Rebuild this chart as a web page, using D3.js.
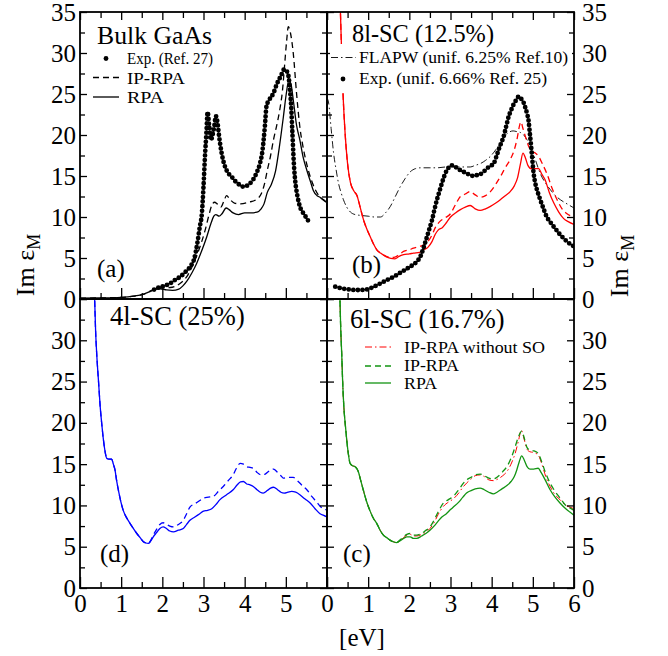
<!DOCTYPE html>
<html><head><meta charset="utf-8">
<script src="https://cdn.jsdelivr.net/npm/d3@7"></script>
<style>body{margin:0;background:#fff} svg{display:block} text{font-family:"Liberation Serif","Times New Roman",serif;fill:#000}</style>
</head><body><svg id="c" width="668" height="656"></svg>
<script>
// ---------- DATA ----------
const xMajor = [0,1,2,3,4,5,6];
const xMinor = [0.5,1.5,2.5,3.5,4.5,5.5];
const yMajorTop = [0,5,10,15,20,25,30,35];
const yMajorBottom = [0,5,10,15,20,25,30];
const yMinor = [2.5,7.5,12.5,17.5,22.5,27.5,32.5];
const xLabelsLeft = [0,1,2,3,4,5];
const xLabelsRight = [0,1,2,3,4,5,6];

// (a) Bulk GaAs
const bulkRPA = [[0,0.1],[0.5,0.12],[1.0,0.2],[1.3,0.35],[1.55,0.6],[1.7,0.9],[1.85,1.2],[1.95,1.25],[2.1,1.1],[2.25,1.05],[2.4,1.2],[2.5,1.6],[2.6,2.2],[2.72,3.2],[2.83,4.3],[2.95,5.8],[3.08,7.6],[3.18,9.2],[3.25,10.1],[3.3,10.3],[3.38,10.1],[3.45,10.4],[3.55,11.1],[3.62,10.9],[3.72,10.5],[3.85,10.3],[4.0,10.5],[4.15,10.5],[4.3,10.6],[4.4,11.0],[4.47,11.6],[4.55,13.0],[4.65,14.0],[4.75,15.6],[4.85,18.8],[4.94,22.2],[5.01,25.0],[5.07,26.6],[5.12,26.3],[5.18,24.3],[5.26,21.2],[5.34,19.4],[5.42,17.3],[5.51,15.7],[5.6,14.3],[5.67,13.2],[5.76,12.6],[5.83,12.4],[5.92,12.1],[6.0,11.7]];
const bulkIP = [[0,0.1],[1.0,0.2],[1.3,0.35],[1.55,0.6],[1.7,0.95],[1.85,1.25],[1.95,1.35],[2.19,1.4],[2.43,1.9],[2.59,2.7],[2.72,3.9],[2.83,5.2],[2.95,6.9],[3.04,8.4],[3.12,10.0],[3.2,11.4],[3.27,11.8],[3.33,11.6],[3.42,11.2],[3.5,12.0],[3.56,12.6],[3.65,12.1],[3.75,11.7],[3.9,11.6],[4.1,11.8],[4.3,12.2],[4.4,12.8],[4.48,14.0],[4.55,15.7],[4.63,17.5],[4.7,19.4],[4.78,21.2],[4.85,23.0],[4.92,25.5],[4.97,28.5],[5.02,31.5],[5.06,33.2],[5.11,32.5],[5.18,30.0],[5.26,25.1],[5.34,21.0],[5.42,18.5],[5.51,16.4],[5.6,14.8],[5.7,13.5],[5.8,12.6],[5.9,12.1],[6.0,11.8]];
const bulkExp = [[1.8,1.15],[1.94,1.45],[2.05,1.6],[2.19,1.9],[2.3,2.3],[2.43,2.7],[2.59,3.45],[2.7,4.1],[2.78,5.0],[2.85,6.8],[2.91,8.8],[2.96,10.4],[3.0,13.7],[3.04,17.8],[3.07,20.2],[3.1,22.8],[3.14,21.0],[3.18,19.4],[3.22,20.0],[3.26,21.0],[3.3,22.3],[3.34,21.5],[3.38,19.8],[3.44,17.8],[3.5,16.5],[3.56,15.7],[3.64,15.1],[3.72,14.7],[3.8,14.2],[3.89,13.9],[3.97,13.7],[4.05,13.8],[4.13,14.1],[4.21,14.6],[4.3,15.5],[4.37,16.5],[4.43,18.0],[4.49,21.0],[4.53,23.5],[4.6,24.3],[4.7,25.1],[4.78,26.2],[4.88,27.2],[4.96,28.0],[5.02,27.8],[5.07,27.0],[5.1,25.5],[5.13,23.5],[5.16,20.2],[5.2,16.1],[5.23,14.3],[5.28,12.6],[5.34,11.3],[5.42,10.5],[5.5,9.9],[5.59,9.15]];

// (b) 8l-SC (12.5%)
const sc8RPA = [[0.32,36],[0.35,31],[0.39,25],[0.44,20.2],[0.5,16.5],[0.57,14.2],[0.65,13.2],[0.73,12.6],[0.8,11.3],[0.89,9.6],[0.97,8.5],[1.05,7.6],[1.13,6.7],[1.21,6.0],[1.3,5.6],[1.42,5.2],[1.55,4.95],[1.65,4.9],[1.75,5.2],[1.86,5.4],[2.0,5.5],[2.1,5.6],[2.25,5.7],[2.35,6.0],[2.45,6.3],[2.55,7.0],[2.63,7.9],[2.7,8.4],[2.8,8.7],[2.9,9.3],[3.0,10.0],[3.12,10.5],[3.24,10.9],[3.36,11.2],[3.48,11.4],[3.6,11.0],[3.72,10.8],[3.85,11.0],[3.97,11.3],[4.1,11.7],[4.21,12.1],[4.33,12.6],[4.45,13.1],[4.55,13.8],[4.63,14.8],[4.7,16.5],[4.76,17.8],[4.82,17.2],[4.88,16.3],[4.96,15.9],[5.05,15.9],[5.14,15.9],[5.22,15.2],[5.3,14.5],[5.4,13.0],[5.51,11.7],[5.63,10.6],[5.75,9.8],[5.87,9.4],[6.0,9.1]];
const sc8IP = [[0.32,36],[0.35,31],[0.39,25],[0.44,20.2],[0.5,16.5],[0.57,14.2],[0.65,13.2],[0.73,12.6],[0.8,11.3],[0.89,9.6],[0.97,8.5],[1.05,7.6],[1.13,6.7],[1.21,6.0],[1.3,5.6],[1.42,5.25],[1.55,5.05],[1.65,5.1],[1.75,5.4],[1.86,5.8],[2.0,6.0],[2.1,6.2],[2.25,6.4],[2.35,6.6],[2.45,7.0],[2.55,7.8],[2.63,8.7],[2.75,9.5],[2.87,9.9],[3.0,10.4],[3.12,11.5],[3.24,12.5],[3.36,12.8],[3.48,13.1],[3.6,12.7],[3.72,12.4],[3.85,12.6],[3.97,13.1],[4.1,14.0],[4.21,14.9],[4.33,16.0],[4.45,17.0],[4.55,18.2],[4.62,19.6],[4.68,21.2],[4.71,21.6],[4.76,20.8],[4.82,19.8],[4.9,18.6],[4.98,18.0],[5.06,17.8],[5.14,17.4],[5.24,16.4],[5.34,15.3],[5.46,13.6],[5.59,12.1],[5.71,11.0],[5.83,10.4],[6.0,10.0]];
const sc8FLAPW = [[0.0,24.5],[0.04,23.9],[0.1,20.8],[0.16,17.8],[0.22,15.8],[0.28,14.1],[0.34,13.0],[0.4,12.1],[0.48,11.2],[0.57,10.6],[0.68,10.3],[0.81,10.2],[1.0,10.1],[1.15,10.0],[1.3,10.0],[1.42,10.5],[1.54,11.3],[1.66,12.5],[1.78,13.7],[1.9,14.7],[2.02,15.5],[2.15,15.9],[2.27,16.0],[2.5,16.0],[2.67,16.0],[2.9,16.1],[3.08,16.1],[3.3,16.1],[3.48,16.1],[3.6,16.3],[3.72,16.5],[3.85,16.9],[3.97,17.4],[4.1,18.2],[4.21,19.0],[4.31,19.8],[4.41,20.3],[4.52,20.5],[4.62,20.4],[4.7,20.3],[4.78,20.0],[4.86,19.4],[4.94,18.6],[5.06,17.0],[5.18,15.3],[5.3,14.2],[5.43,13.3],[5.55,12.6],[5.67,12.1],[5.83,11.6],[6.0,11.1]];
const sc8Exp = [[0.2,1.5],[0.35,1.3],[0.49,1.2],[0.65,1.1],[0.81,1.1],[0.95,1.15],[1.05,1.3],[1.18,1.6],[1.3,1.9],[1.45,2.3],[1.62,2.7],[1.78,3.2],[1.94,3.7],[2.07,4.1],[2.19,4.6],[2.27,5.2],[2.33,6.0],[2.38,6.8],[2.43,7.6],[2.49,8.6],[2.55,9.6],[2.61,10.9],[2.67,12.1],[2.73,13.1],[2.79,14.1],[2.85,15.0],[2.91,15.7],[2.97,16.1],[3.04,16.3],[3.12,16.1],[3.24,15.7],[3.32,15.5],[3.4,15.3],[3.48,15.1],[3.56,15.0],[3.64,15.1],[3.72,15.2],[3.82,15.6],[3.93,16.1],[4.0,16.3],[4.05,16.5],[4.11,17.3],[4.17,18.2],[4.23,19.0],[4.29,19.8],[4.35,21.0],[4.41,22.2],[4.47,23.0],[4.53,23.7],[4.6,24.3],[4.66,24.7],[4.72,24.4],[4.78,23.9],[4.82,23.3],[4.86,22.6],[4.9,21.6],[4.92,20.6],[4.97,18.0],[5.02,15.3],[5.06,14.1],[5.12,13.0],[5.18,12.1],[5.26,11.0],[5.34,10.0],[5.42,9.4],[5.51,8.8],[5.59,8.3],[5.67,7.8],[5.75,7.4],[5.83,7.0],[5.91,6.7],[6.0,6.4]];

// (d) 4l-SC (25%)
const sc4Low = [[0.35,36],[0.38,31],[0.41,28.0],[0.45,25],[0.49,22.0],[0.53,19.8],[0.57,17.9],[0.61,16.5],[0.65,15.7],[0.71,15.6],[0.77,15.6],[0.81,15.0],[0.85,14.3],[0.89,13.0],[0.93,11.9],[0.99,10.5],[1.05,9.4],[1.11,8.7],[1.17,8.2],[1.27,7.4],[1.38,6.6],[1.46,6.1],[1.54,5.6],[1.6,5.45],[1.66,5.4]];
const sc4RPAHigh = [[1.72,5.7],[1.78,6.2],[1.86,6.7],[1.94,7.2],[2.02,7.4],[2.1,7.2],[2.18,6.9],[2.27,6.8],[2.39,7.0],[2.51,7.2],[2.59,7.7],[2.67,8.2],[2.79,8.6],[2.91,9.0],[3.0,9.3],[3.1,9.4],[3.2,9.6],[3.3,10.1],[3.4,10.7],[3.56,11.3],[3.72,11.9],[3.82,12.5],[3.9,12.85],[3.97,12.9],[4.05,12.6],[4.13,12.5],[4.21,12.3],[4.3,11.9],[4.38,11.6],[4.45,11.5],[4.55,11.8],[4.63,12.1],[4.7,12.2],[4.8,11.9],[4.88,11.6],[4.96,11.5],[5.05,11.6],[5.14,11.7],[5.24,11.6],[5.34,11.3],[5.46,10.8],[5.59,10.3],[5.71,9.6],[5.83,9.0],[5.92,8.8],[6.0,8.6]];
const sc4IPHigh = [[1.72,5.8],[1.78,6.4],[1.86,7.1],[1.94,7.7],[2.02,7.9],[2.1,7.7],[2.18,7.5],[2.27,7.4],[2.39,7.7],[2.51,8.2],[2.59,9.0],[2.67,9.8],[2.79,10.2],[2.91,10.6],[3.0,10.9],[3.12,11.0],[3.24,11.1],[3.36,11.7],[3.48,12.3],[3.6,13.0],[3.72,13.7],[3.8,14.5],[3.89,15.1],[3.97,15.0],[4.05,14.7],[4.13,14.6],[4.21,14.5],[4.3,14.0],[4.4,13.7],[4.5,13.8],[4.6,14.2],[4.7,14.4],[4.8,14.0],[4.88,13.6],[4.94,13.3],[5.05,13.4],[5.18,13.4],[5.3,12.9],[5.42,12.3],[5.51,11.9],[5.63,11.1],[5.75,10.4],[5.83,9.9],[5.92,9.6],[6.0,9.4]];

// (c) 6l-SC (16.7%)
const sc6Low = [[0.31,36],[0.33,32],[0.36,28.0],[0.38,25],[0.41,21.9],[0.45,19.5],[0.48,17.9],[0.52,16.2],[0.56,15.1],[0.62,14.8],[0.68,14.7],[0.76,14.1],[0.82,13.0],[0.88,11.9],[0.96,10.5],[1.04,9.4],[1.12,8.5],[1.21,7.8],[1.29,7.0],[1.37,6.4],[1.45,6.1],[1.53,5.8],[1.61,5.6],[1.69,5.5]];
const sc6RPAHigh = [[1.77,5.7],[1.86,6.0],[1.94,6.2],[2.02,6.2],[2.1,6.0],[2.18,6.0],[2.3,6.3],[2.4,6.6],[2.5,7.0],[2.6,7.5],[2.7,8.1],[2.79,8.6],[2.9,9.0],[3.0,9.5],[3.07,9.8],[3.2,10.4],[3.3,11.0],[3.39,11.5],[3.5,11.8],[3.6,12.0],[3.72,12.1],[3.82,11.9],[3.93,11.6],[4.04,11.4],[4.13,11.6],[4.25,12.0],[4.37,12.4],[4.47,12.9],[4.55,13.5],[4.61,14.3],[4.67,15.3],[4.73,16.0],[4.79,15.5],[4.86,14.7],[4.93,14.4],[5.02,14.4],[5.13,14.5],[5.2,14.0],[5.3,13.1],[5.42,11.9],[5.54,11.0],[5.66,10.3],[5.8,9.6],[5.9,9.2],[6.0,8.8]];
const sc6IPHigh = [[1.77,5.8],[1.86,6.2],[1.94,6.5],[2.02,6.6],[2.1,6.4],[2.18,6.4],[2.26,6.5],[2.38,6.9],[2.5,7.4],[2.6,8.2],[2.7,9.2],[2.83,10.3],[2.95,10.7],[3.07,11.1],[3.2,11.9],[3.3,12.6],[3.39,13.1],[3.5,13.4],[3.6,13.7],[3.72,13.8],[3.82,13.6],[3.93,13.3],[4.04,13.2],[4.15,13.5],[4.27,14.1],[4.37,14.7],[4.47,15.7],[4.57,17.1],[4.65,18.3],[4.73,19.0],[4.8,18.0],[4.86,17.0],[4.93,16.7],[5.03,16.6],[5.13,16.3],[5.22,15.2],[5.32,13.8],[5.42,12.7],[5.54,11.7],[5.66,10.9],[5.8,10.0],[5.9,9.7],[6.0,9.4]];
const sc6NoSOHigh = [[1.77,5.7],[1.86,6.1],[1.94,6.4],[2.02,6.5],[2.1,6.3],[2.18,6.3],[2.26,6.4],[2.38,6.7],[2.5,7.2],[2.6,7.9],[2.7,8.9],[2.83,9.9],[2.95,10.4],[3.07,10.8],[3.2,11.5],[3.3,12.2],[3.39,12.7],[3.5,13.2],[3.6,13.6],[3.72,13.7],[3.82,13.5],[3.93,13.1],[4.04,13.0],[4.15,13.2],[4.27,13.6],[4.37,14.1],[4.47,15.0],[4.57,16.3],[4.65,17.8],[4.72,19.1],[4.8,17.8],[4.86,16.8],[4.93,16.5],[5.03,16.4],[5.13,16.1],[5.22,15.0],[5.32,13.4],[5.42,12.3],[5.54,11.3],[5.66,10.7],[5.8,10.0],[5.9,9.8],[6.0,9.6]];

// ---------- DRAWING ----------
const svg = d3.select("#c");
const FONT = '"Liberation Serif","Times New Roman",serif';
const RED = "#ff0000", BLUE = "#0000ff", GREEN = "#129412";

const X0 = 80, XM = 327, X1 = 574, Y0 = 12, YM = 299, Y1 = 588;

const panels = {
  a: {x:[X0,XM], y:[YM,Y0]},
  b: {x:[XM,X1], y:[YM,Y0]},
  d: {x:[X0,XM], y:[Y1,YM]},
  c: {x:[XM,X1], y:[Y1,YM]}
};
for (const k in panels) {
  const p = panels[k];
  p.sx = d3.scaleLinear().domain([0,6]).range(p.x);
  p.sy = d3.scaleLinear().domain([0,35]).range(p.y);
  svg.append("clipPath").attr("id","clip-"+k).append("rect")
    .attr("x",p.x[0]).attr("y",p.y[1]).attr("width",p.x[1]-p.x[0]).attr("height",p.y[0]-p.y[1]);
  p.g = svg.append("g").attr("clip-path",`url(#clip-${k})`);
}

function curve(k, data, color, opts={}) {
  const p = panels[k];
  const line = d3.line().x(d=>p.sx(d[0])).y(d=>p.sy(d[1])).curve(d3.curveMonotoneX);
  const path = p.g.append("path").attr("d", line(data)).attr("fill","none")
    .attr("stroke", color).attr("stroke-width", opts.w || 1.3).attr("stroke-linejoin","round");
  if (opts.dash) path.attr("stroke-dasharray", opts.dash);
  if (opts.dots) path.attr("stroke-width", 4.8).attr("stroke-linecap","round").attr("stroke-dasharray","0 4.6");
  return path;
}

const DASH = "6 4", DASHDOT = "7 3 1.5 3";

// (a)
curve("a", bulkIP, "#000", {dash: DASH});
curve("a", bulkRPA, "#000");
curve("a", bulkExp, "#000", {dots: true});
// (b)
curve("b", sc8FLAPW, "#000", {dash: DASHDOT, w: 0.9});
curve("b", sc8IP, RED, {dash: DASH});
curve("b", sc8RPA, RED);
curve("b", sc8Exp, "#000", {dots: true});
// (d)
curve("d", sc4Low.concat(sc4IPHigh), BLUE, {dash: DASH});
curve("d", sc4Low.concat(sc4RPAHigh), BLUE);
// (c)
curve("c", sc6Low.concat(sc6NoSOHigh), RED, {dash: DASHDOT, w: 1.0});
curve("c", sc6Low.concat(sc6IPHigh), GREEN, {dash: DASH});
curve("c", sc6Low.concat(sc6RPAHigh), GREEN);

// ---------- AXES ----------
function styleAxis(g, size) {
  g.select(".domain").remove();
  g.attr("font-family", null).attr("font-size", null);
  g.selectAll("line").attr("stroke","#000").attr("stroke-width",1.3);
  g.selectAll("text").attr("font-family", FONT).attr("font-size", size || 25).attr("fill","#000");
}
function addAxis(k, side, values, len, labels, pad) {
  const p = panels[k];
  let ax, tr;
  if (side === "left")   { ax = d3.axisLeft(p.sy);   tr = `translate(${p.x[0]},0)`; }
  if (side === "right")  { ax = d3.axisRight(p.sy);  tr = `translate(${p.x[1]},0)`; }
  if (side === "bottom") { ax = d3.axisBottom(p.sx); tr = `translate(0,${p.y[0]})`; }
  if (side === "top")    { ax = d3.axisTop(p.sx);    tr = `translate(0,${p.y[1]})`; }
  ax.tickValues(values).tickSizeInner(-len).tickSizeOuter(0).tickPadding(pad || 4);
  if (labels) ax.tickFormat(d => labels.includes(d) ? d3.format("d")(d) : "");
  else ax.tickFormat("");
  const g = svg.append("g").attr("transform", tr).call(ax);
  styleAxis(g);
  return g;
}

// (a)
addAxis("a","left",yMajorTop,7,yMajorTop,4);
addAxis("a","left",yMinor,5);
addAxis("a","right",yMajorTop,7);
addAxis("a","right",yMinor,5);
addAxis("a","bottom",xMajor,11);
addAxis("a","bottom",xMinor,6);
addAxis("a","top",xMajor,8);
addAxis("a","top",xMinor,6);
// (b)
addAxis("b","right",yMajorTop,7,yMajorTop,8);
addAxis("b","right",yMinor,5);
addAxis("b","left",yMajorTop,7);
addAxis("b","left",yMinor,5);
addAxis("b","bottom",xMajor,11);
addAxis("b","bottom",xMinor,6);
addAxis("b","top",xMajor,8);
addAxis("b","top",xMinor,6);
// (d)
addAxis("d","left",yMajorTop,7,yMajorBottom,4);
addAxis("d","left",yMinor,5);
addAxis("d","right",yMajorTop,7);
addAxis("d","right",yMinor,5);
addAxis("d","bottom",xMajor,11,xLabelsLeft,6);
addAxis("d","bottom",xMinor,6);
// (c)
addAxis("c","right",yMajorTop,7,yMajorBottom,8);
addAxis("c","right",yMinor,5);
addAxis("c","left",yMajorTop,7);
addAxis("c","left",yMinor,5);
addAxis("c","bottom",xMajor,11,xLabelsRight,6);
addAxis("c","bottom",xMinor,6);

// frames
for (const k in panels) {
  const p = panels[k];
  svg.append("rect").attr("x",p.x[0]).attr("y",p.y[1]).attr("width",p.x[1]-p.x[0]).attr("height",p.y[0]-p.y[1])
    .attr("fill","none").attr("stroke","#000").attr("stroke-width",1.8);
}

// ---------- TEXT ----------
function txt(x, y, s, size, anchor, len) {
  const t = svg.append("text").attr("x",x).attr("y",y).attr("font-size",size).attr("text-anchor",anchor||"start").text(s);
  if (len) t.attr("textLength", len).attr("lengthAdjust","spacingAndGlyphs");
  return t;
}
// legend box for (b) hides curves behind it
svg.append("rect").attr("x",330).attr("y",44).attr("width",242).attr("height",49).attr("fill","#fff");

txt(97,44,"Bulk GaAs",25.5,"start",115);
txt(352,42,"8l-SC (12.5%)",25,"start",142);
txt(110,325,"4l-SC (25%)",26.5);
txt(350,328,"6l-SC (16.7%)",26.5);
txt(97,277,"(a)",25);
txt(352,273,"(b)",25);
txt(100,562,"(d)",25);
txt(343,562,"(c)",25);

function legLine(x1,x2,y,color,dash,w) {
  const l = svg.append("line").attr("x1",x1).attr("x2",x2).attr("y1",y).attr("y2",y).attr("stroke",color).attr("stroke-width",w||1.3);
  if (dash) l.attr("stroke-dasharray",dash);
}
// legend (a)
svg.append("circle").attr("cx",106).attr("cy",58.5).attr("r",2.4).attr("fill","#000");
txt(127,64,"Exp. (Ref. 27)",16,"start",86);
legLine(93,119,77.5,"#000",DASH);
txt(127,83.5,"IP-RPA",16,"start",58);
legLine(93,119,97,"#000");
txt(127,103,"RPA",16,"start",37);
// legend (b)
legLine(331,356,57.5,"#000",DASHDOT,0.9);
txt(359,63,"FLAPW (unif. 6.25% Ref.10)",16.5,"start",209);
svg.append("circle").attr("cx",343).attr("cy",79).attr("r",2.4).attr("fill","#000");
txt(359,83.5,"Exp. (unif. 6.66% Ref. 25)",16.5,"start",188);
// legend (c)
legLine(365,391,347,RED,DASHDOT,1.0);
txt(404,353,"IP-RPA without SO",16,"start",141);
legLine(365,391,366,GREEN,DASH);
txt(404,371,"IP-RPA",16,"start",55);
legLine(365,391,383,GREEN);
txt(404,389,"RPA",16,"start",33);

// axis titles
function yTitle(x, y) {
  const t = svg.append("text").attr("transform",`translate(${x},${y}) rotate(-90)`)
    .attr("text-anchor","middle").attr("font-size",26);
  t.append("tspan").text("Im ε");
  t.append("tspan").attr("font-size",18).attr("dy",6).text("M");
}
yTitle(34,265);
yTitle(628,266);
txt(362,646,"[eV]",25,"middle");
</script>
</body></html>
